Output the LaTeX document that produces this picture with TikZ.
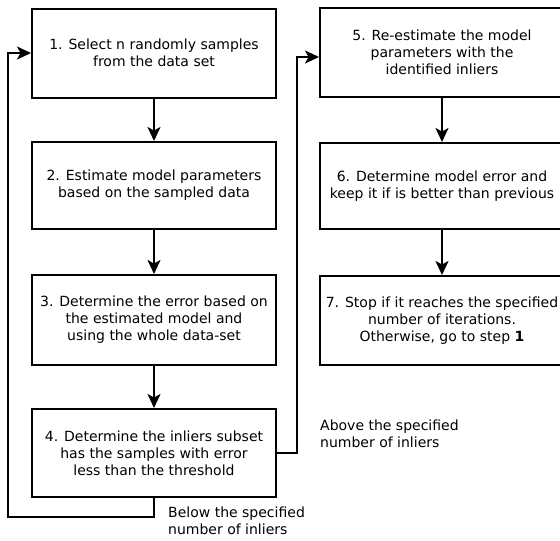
\documentclass[tikz,border=0pt]{standalone}
\usepackage{fontspec}
\setmainfont{DejaVu Sans}
\usetikzlibrary{arrows.meta}
\begin{document}
\begin{tikzpicture}[x=1pt,y=-1pt,
  box/.style={draw=black, line width=2pt, minimum width=244pt, minimum height=89pt,
    align=center, inner sep=1pt, font=\fontsize{14}{17}\selectfont},
  conn/.style={line width=2pt},
  arr/.style={conn, -{Stealth[length=14pt,width=13pt,inset=3.5pt]}},
  lbl/.style={anchor=west, align=left, inner sep=0pt, font=\fontsize{14}{17.5}\selectfont}]
\useasboundingbox (0,0) rectangle (560,541);
\clip (0,0) rectangle (560,541);
\fill[white] (0,0) rectangle (560,541);
\node[box] (b1) at (154,53) {1. Select n randomly samples\\from the data set};
\node[box, minimum height=87pt] (b2) at (154,185.5) {2. Estimate model parameters\\based on the sampled data};
\node[box, minimum height=90pt] (b3) at (154,320) {3. Determine the error based on\\the estimated model and\\using the whole data-set};
\node[box, minimum height=88pt] (b4) at (154,453) {4. Determine the inliers subset\\has the samples with error\\less than the threshold};
\node[box] (b5) at (442,52.5) {5. Re-estimate the model\\parameters with the\\identified inliers};
\node[box, minimum height=86pt] (b6) at (442,186) {6. Determine model error and\\keep it if is better than previous};
\node[box] (b7) at (442,320.5) {7. Stop if it reaches the specified\\number of iterations.\\Otherwise, go to step \textbf{1}};
\node[lbl] (la) at (320,434) {Above the specified\\number of inliers};
\node[lbl] (lb) at (168,521) {Below the specified\\number of inliers};
\draw[arr] (b1) -- (b2);
\draw[arr] (b2) -- (b3);
\draw[arr] (b3) -- (b4);
\draw[arr] (b5) -- (b6);
\draw[arr] (b6) -- (b7);
\coordinate (l1) at (154,517);
\coordinate (l2) at (8,517);
\coordinate (l3) at (8,53);
\draw[arr] (b4.south) -- (l1) -- (l2) -- (l3) -- (b1.west);
\coordinate (r1) at (297,453);
\coordinate (r2) at (297,57);
\draw[arr] (b4.east) -- (r1) -- (r2) -- (r2 -| b5.west);
\end{tikzpicture}
\end{document}
